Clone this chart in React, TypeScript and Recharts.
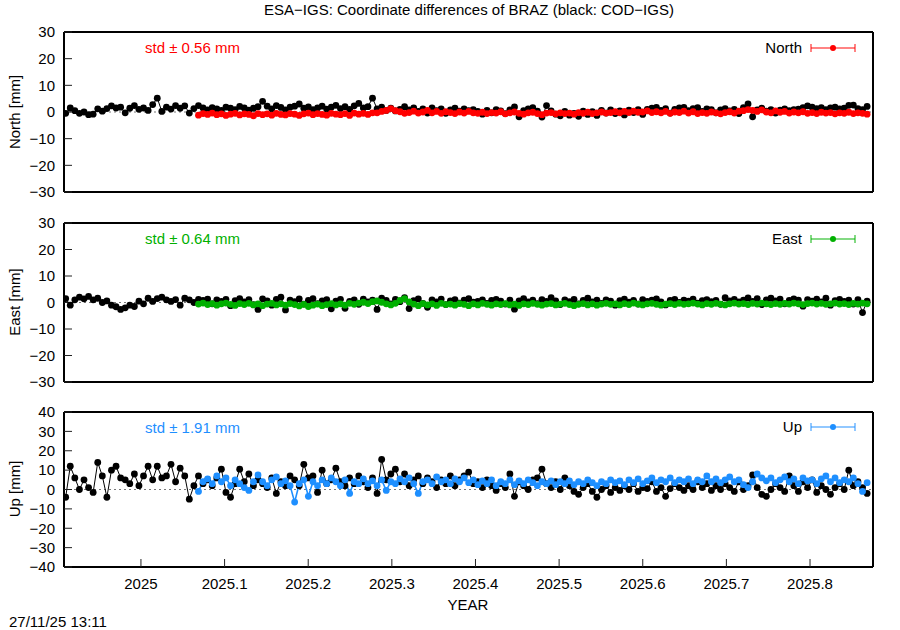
import { LineChart, Line, XAxis, YAxis, ReferenceLine } from "recharts";

const FONT = "'Liberation Sans', Arial, Helvetica, sans-serif";

// epochs: one solution every 2 days, ESA series starts later
const firstEpoch = 2024.91;
const stepYears = 2 / 365.25;
const esaOffset = 29;
const yearDomain = [2024.908, 2025.8753];

const yearTicks = [2025, 2025.1, 2025.2, 2025.3, 2025.4, 2025.5, 2025.6, 2025.7, 2025.8];
const neTicks = [-30, -20, -10, 0, 10, 20, 30];
const upTicks = [-40, -30, -20, -10, 0, 10, 20, 30, 40];

// black: COD-IGS
const northCod = [
  -0.5, 1.5, 0.5, -0.5, 0, -1, -0.8, 1.2, 0.3, 1.3,
  2.3, 1.5, 1.8, -0.3, 1.4, 2.4, 1, 1.5, 0.6, 2.8,
  5.2, 0.2, 1.8, 1.1, 2.4, 1.4, 2.3, -0.4, 1.3, 2.4,
  1.5, 0.8, 1.6, 1.2, 0.6, 1.8, 1.4, 0.9, 2.1, 1.5,
  0.7, 1.4, 2.0, 4.0, 2.2, 1.2, 2.4, 1.7, 0.8, 1.8,
  2.2, 3.0, 1.4, 1.9, 0.9, 1.5, 2.2, 1.1, 1.8, 2.5,
  1.3, 2.0, 1.0, 2.3, 3.2, 1.5, 2.0, 5.2, 1.2, 1.8,
  0.6, 1.4, 0.4, 1.0, 2.0, 0.8, 1.5, 0.2, 1.2, -0.4,
  1.5, 0.5, 1.2, -0.5, 0.8, 1.4, 0.3, 1.2, 0.5, 0.9,
  0.2, -0.8, 0.6, -0.3, 0.9, 0.4, -0.6, 0.8, 1.9, -1.8,
  0.5, 1.2, 1.6, 0.3, -1.9, 2.4, 0.4, -0.8, -1.4, 0.2,
  -1.2, -0.5, -1.6, 0.3, -0.9, 0.1, -1.3, 0.6, -0.4, 0.8,
  -0.6, 0.4, -1.1, 0.7, -0.2, 0.9, -0.9, 1.0, 1.4, 1.7,
  0.6, 1.3, -0.4, 1.0, 1.5, 1.7, 0.5, 1.3, 1.6, 0.2,
  1.2, 0.9, -0.3, 0.8, 1.3, 0.4, 1.0, -0.6, 1.6, 3.0,
  -1.8, 0.8, 1.4, 0.3, 0.9, -0.4, 0.7, 1.2, 0.5, 0.9,
  1.1, 1.6, 2.3, 1.8, 1.3, 1.6, 0.9, 1.5, 1.8, 1.2,
  1.4, 2.5, 2.6, 1.3, 0.9, 2.1,
];

const northEsa = [
  -1.2, -0.6, -0.9, -0.4, -1.0, -0.7, -1.3, -0.8, -0.5, -1.1, -0.7,
  -0.9, -1.4, -0.6, -1.0, -0.7, -1.2, -0.5, -0.9, -1.1, -0.6,
  -0.8, -1.3, -0.7, -0.4, -1.0, -0.6, -0.9, -1.2, -0.5, -0.8,
  -1.0, -0.6, -1.3, -0.4, -0.8, -0.5, -0.9, -0.3, -0.3, 0.2,
  0.6, 1.3, 0.5, 0.1, -0.5, -0.2, 0.3, -0.4, 0.0, 0.6,
  -0.3, 0.2, -0.5, 0.1, -0.2, -0.6, 0.0, -0.4, 0.2, -0.3,
  -0.5, -0.1, -0.6, -0.2, -0.4, 0.1, -0.7, -0.3, 0.0, -0.5,
  -0.8, -0.3, -0.1, -0.6, -1.0, -0.4, -0.2, -0.7, -0.3, -0.6,
  -0.4, -0.8, -0.2, -0.5, -0.1, -0.6, -0.3, 0.0, -0.4, -0.2,
  0.1, -0.3, 0.2, -0.2, 0.3, -0.1, 0.0, 0.4, -0.2, 0.1,
  -0.3, 0.2, -0.5, 0.0, -0.2, 0.3, -0.4, 0.1, -0.6, -0.2,
  -0.5, 0.0, -0.3, -0.7, -0.2, 0.1, -0.4, 0.3, 0.5, 0.9,
  0.6, 0.2, 0.8, 0.0, -0.3, 0.4, -0.1, 0.2, -0.4, 0.0,
  -0.3, 0.1, -0.5, -0.2, -0.6, -0.1, -0.4, -0.2, -0.7, -0.3,
  -0.5, -0.1, -0.6, -0.3, -0.5, -0.8,
];

const eastCod = [
  1.5, -1.0, 1.0, 2.0, 1.4, 2.3, 1.0, 1.6, 0.0, 0.6,
  -1.0, -1.6, -2.6, -2.0, -1.0, -1.5, 0.5, -0.5, 1.6, 0.4,
  1.5, 2.0, 1.0, 0.4, 1.1, -1.0, 1.6, 1.0, 0.0, 1.2,
  0.8, 1.3, -0.5, 1.0, 0.4, 1.2, -1.2, 0.7, 1.5, 0.2,
  1.1, -0.8, -2.6, 1.4, 0.6, -1.0, 1.2, 2.0, -2.8, 0.9,
  0.3, 1.4, -0.6, 0.8, 1.5, -0.4, 0.6, 1.1, -2.4, 0.5,
  1.2, -2.2, 0.4, 1.0, -0.7, 1.3, 0.2, 0.9, -2.6, 1.6,
  0.8, -0.5, 1.2, 0.3, 1.8, -2.3, 0.7, 1.4, -0.3, -1.8,
  1.0, 0.2, 1.3, -0.8, 0.6, 1.1, -0.2, 0.9, 1.5, 0.1,
  0.4, 1.0, -0.3, 0.8, 1.2, 0.5, -0.6, 0.9, -2.5, 0.6,
  1.5, 0.2, 0.9, -0.4, 1.1, 0.4, 1.8, 0.6, -0.8, 1.0,
  0.3, 1.2, -0.5, 0.8, 1.6, 0.2, 0.9, -0.3, 1.0, 0.5,
  -1.0, 0.7, 1.3, 0.1, 0.8, -0.6, 1.1, 0.4, 0.9, 1.4,
  0.2, -0.9, 0.8, 1.2, 0.0, 0.9, 0.5, 1.3, -0.2, 0.7,
  1.1, 0.3, 0.8, -0.7, 1.8, 0.6, 1.2, 0.2, 0.9, 1.7,
  0.4, 1.5, -0.8, 1.0, 1.6, 0.6, 1.3, -0.5, 0.8, 1.4,
  0.9, -1.4, 1.1, 0.5, 1.3, 0.2, 1.6, -1.0, 0.7, 1.2,
  0.4, 0.9, -0.6, 1.1, -3.8, 0.5,
];

const eastEsa = [
  -0.6, -0.2, -0.8, -0.4, -1.0, -0.5, -0.2, -0.7, -1.1, -0.4, -0.8,
  -0.3, -0.9, -0.5, -1.2, -0.6, -0.3, -0.9, -0.5, -1.0, -0.4,
  -0.8, -1.3, -0.7, -1.5, -1.0, -0.6, -1.2, -0.8, -0.4, -0.9,
  -0.5, -1.0, -0.3, -0.7, -0.2, 0.1, -0.4, 0.3, 0.6, 0.1,
  -0.5, -0.9, -0.3, 0.8, 1.5, 0.2, -0.6, -1.2, -0.4, -0.9,
  -0.5, -1.1, -0.3, -0.8, -0.6, -1.0, -0.4, -0.7, -1.2, -0.5,
  -0.9, -0.3, -0.7, -1.0, -0.5, -0.8, -0.4, -0.9, -0.6, -1.1,
  -0.5, -0.8, -0.3, -0.7, -1.0, -0.6, -0.4, -0.9, -0.6, -0.3,
  -0.8, -1.2, -0.7, -0.4, -0.9, -0.5, -1.0, -0.6, -0.3, -0.7,
  -0.5, -0.9, -0.4, -0.8, -0.2, -0.6, -0.9, -0.5, -0.3, -0.7,
  -1.0, -0.6, -0.4, -0.8, -0.3, -0.7, -0.5, -0.2, -0.6, -0.9,
  -0.4, -0.7, -0.3, -0.6, -0.9, -0.5, -0.2, -0.6, -0.4, -0.8,
  -0.3, -0.6, -0.2, -0.5, -0.8, -0.4, -0.7, -0.3, -0.6, -0.2,
  -0.5, -0.8, -0.4, -0.2, -0.6, -0.3, -0.7, -0.5, -0.2, -0.6,
  -0.4, -0.8, -0.3, -0.6, -0.2, -0.5,
];

const upCod = [
  -4, 12, 6, 0, 5, 1, -1.5, 14, 7, -4,
  10, 12, 6, 5, 3, 8, 2, 7, 12, 5,
  12, 6, 7, 13, 4, 11, 7, -5, 2, 7,
  3, 5, 2, 6, 10.5, -1.5, -4, 3, 10.5, 4,
  8, 2, 5, 3, 1, 6, -2, 4, 2, 7,
  5, 2, 13, 6, 7, -1.5, 10, 3, 5, 11,
  4, 2, 6, 3, 7, 4, 1, 6, -2, 15.5,
  5, 8, 10.5, 4, 8, 2, 5, 7, 3, 6,
  4, 1, 5, 3, 7, 2, 5, 7, 9, 3,
  4, 1, 5, 2, -0.5, 3, 1, 8, -3.5, 4,
  2, 0, 5, 6, 10.5, 3, 1, 4, 0, 6,
  2, -1, -2.5, 1, 3, -1, -4, 0, 2, -1.5,
  1, -0.5, 2, 0, 3, -1, 1, 0.5, 4, -1,
  1, -3.5, 0.5, 3, 1, -0.5, 2, 0, 4, 1,
  3, -0.5, 2, 0, 3, 1, -1, 4, 0, 2,
  7.5, 1, -2.5, -3.5, 0, 3, 1, -1, 7, 2,
  -1, 4, 1, 5, -1.5, 2, 0, -2.5, 1, 3,
  0, 10, 2, 4, 1, -2,
];

const upEsa = [
  -1, 4, 5.5, 3, 7, 4, 6, 2, 5, 3, 1,
  -0.5, 4, 7.5, 4, 2, 5, 6.5, 3, 4.5, 2,
  -6.5, 3, 5, -3.5, 4, 2, 5, 3, 6, 4,
  2, 5, -2, 4, 3, 5.5, 3, 4.5, 2, 5,
  -0.5, 4, 3, 5.5, 4, 6, 3, -2, 4, 5,
  3, 6.5, 4, 5, 3, 5.5, 4, 6, 3.5, 5,
  2.5, 4.5, 3, 5, 2, 4, 3, 5, 2.5, 4.5,
  3, 5, 3.5, 2, 4, 3, 4.5, 2.5, 4, 3,
  4.5, 2.5, 4, 3, 5, 3.5, 2, 4, 3, 5,
  3.5, 4.5, 2.5, 5, 3.5, 5.5, 3, 4.5, 6, 3.5,
  5, 4, 6, 3.5, 5, 4, 5.5, 3, 5, 4,
  7, 4, 5.5, 3.5, 5, 6.5, 4, 5, 2.5, 1,
  4, 8, 6, 4.5, 6, 3.5, 5, 6.5, 4, 5.5,
  3, 6, 4.5, 5, 3, 5.5, 7, 4, 6, 3.5,
  5, 4, 6, 3, -1, 3.5,
];

function buildRows(cod: number[], esa: number[]) {
  return cod.map((v, i) => ({
    t: firstEpoch + i * stepYears,
    cod: v,
    esa: i >= esaOffset ? esa[i - esaOffset] : null,
  }));
}

const fmtY = (v: number) => (v < 0 ? "\u2212" + Math.abs(v) : String(v));
const fmtYear = (v: number) => String(Number(v.toFixed(1)));

const tickFont = { fontSize: 15, fill: "#000", fontFamily: FONT };
const border = { stroke: "#000", strokeWidth: 2 };
const tickStroke = { stroke: "#222", strokeWidth: 1 };

interface PanelProps {
  top: number;
  height: number;
  bottomH: number;
  rows: any[];
  yTicks: number[];
  color: string;
  showYears: boolean;
}

function Panel({ top, height, bottomH, rows, yTicks, color, showYears }: PanelProps) {
  const yDomain = [yTicks[0], yTicks[yTicks.length - 1]];
  return (
    <div style={{ position: "absolute", left: 0, top }}>
      <LineChart
        width={900}
        height={height}
        data={rows}
        margin={{ top: 31, right: 26, bottom: 0, left: 14 }}
      >
        <XAxis
          xAxisId="b"
          dataKey="t"
          type="number"
          domain={yearDomain}
          allowDataOverflow
          ticks={yearTicks}
          interval={0}
          height={bottomH}
          tickSize={-8}
          tickMargin={19}
          tick={showYears ? tickFont : false}
          tickFormatter={fmtYear}
          axisLine={border}
          tickLine={tickStroke}
        />
        <XAxis
          xAxisId="t"
          orientation="top"
          dataKey="t"
          type="number"
          domain={yearDomain}
          allowDataOverflow
          ticks={yearTicks}
          interval={0}
          height={1}
          tickSize={-8}
          tick={false}
          axisLine={border}
          tickLine={tickStroke}
        />
        <YAxis
          yAxisId="l"
          type="number"
          domain={yDomain}
          ticks={yTicks}
          interval={0}
          width={50}
          tickSize={-8}
          tickMargin={17}
          tick={tickFont}
          tickFormatter={fmtY}
          axisLine={border}
          tickLine={tickStroke}
        />
        <YAxis
          yAxisId="r"
          orientation="right"
          type="number"
          domain={yDomain}
          ticks={yTicks}
          interval={0}
          width={1}
          tickSize={-8}
          tick={false}
          axisLine={border}
          tickLine={tickStroke}
        />
        <ReferenceLine
          xAxisId="b"
          yAxisId="l"
          y={0}
          stroke="#777"
          strokeDasharray="2 3"
        />
        <Line
          xAxisId="b"
          yAxisId="l"
          dataKey="cod"
          stroke="#000"
          strokeWidth={1}
          dot={{ r: 3.4, fill: "#000", stroke: "none" }}
          isAnimationActive={false}
        />
        <Line
          xAxisId="b"
          yAxisId="l"
          dataKey="esa"
          stroke={color}
          strokeWidth={1.6}
          dot={{ r: 3.4, fill: color, stroke: "none" }}
          isAnimationActive={false}
        />
      </LineChart>
    </div>
  );
}

function LegendKey({ y, name, color }: { y: number; name: string; color: string }) {
  return (
    <g>
      <text x={802} y={y + 5} textAnchor="end" fontSize={15} fill="#000">
        {name}
      </text>
      <g stroke={color} strokeOpacity={0.65} strokeWidth={1.5}>
        <line x1={811} x2={855} y1={y} y2={y} />
        <line x1={811} x2={811} y1={y - 4} y2={y + 4} />
        <line x1={855} x2={855} y1={y - 4} y2={y + 4} />
      </g>
      <circle cx={833} cy={y} r={3} fill={color} />
    </g>
  );
}

export default function App() {
  return (
    <div
      style={{
        position: "absolute",
        left: 0,
        top: 0,
        width: 900,
        height: 630,
        background: "#fff",
        fontFamily: FONT,
      }}
    >
      <Panel top={0} height={200} bottomH={8} rows={buildRows(northCod, northEsa)} yTicks={neTicks} color="#ff0000" showYears={false} />
      <Panel top={191} height={199} bottomH={8} rows={buildRows(eastCod, eastEsa)} yTicks={neTicks} color="#00b000" showYears={false} />
      <Panel top={380} height={218} bottomH={31} rows={buildRows(upCod, upEsa)} yTicks={upTicks} color="#1e8fff" showYears={true} />

      <svg
        width={900}
        height={630}
        style={{ position: "absolute", left: 0, top: 0, pointerEvents: "none" }}
        fontFamily={FONT}
      >
        <text x={469} y={15} textAnchor="middle" fontSize={15} fill="#000">
          ESA{"\u2212"}IGS: Coordinate differences of BRAZ (black: COD{"\u2212"}IGS)
        </text>

        <text transform="translate(19.5,112) rotate(-90)" textAnchor="middle" fontSize={15} fill="#000">
          North [mm]
        </text>
        <text transform="translate(19.5,302) rotate(-90)" textAnchor="middle" fontSize={15} fill="#000">
          East [mm]
        </text>
        <text transform="translate(19.5,489) rotate(-90)" textAnchor="middle" fontSize={15} fill="#000">
          Up [mm]
        </text>

        <text x={145} y={53} fontSize={15} fill="#ff0000">std ± 0.56 mm</text>
        <text x={145} y={244} fontSize={15} fill="#00b000">std ± 0.64 mm</text>
        <text x={145} y={433} fontSize={15} fill="#1e8fff">std ± 1.91 mm</text>

        <LegendKey y={48} name="North" color="#ff0000" />
        <LegendKey y={239} name="East" color="#00b000" />
        <LegendKey y={427} name="Up" color="#1e8fff" />

        <text x={468} y={610} textAnchor="middle" fontSize={15} fill="#000">YEAR</text>
        <text x={9} y={627} fontSize={15} fill="#000">27/11/25 13:11</text>
      </svg>
    </div>
  );
}
